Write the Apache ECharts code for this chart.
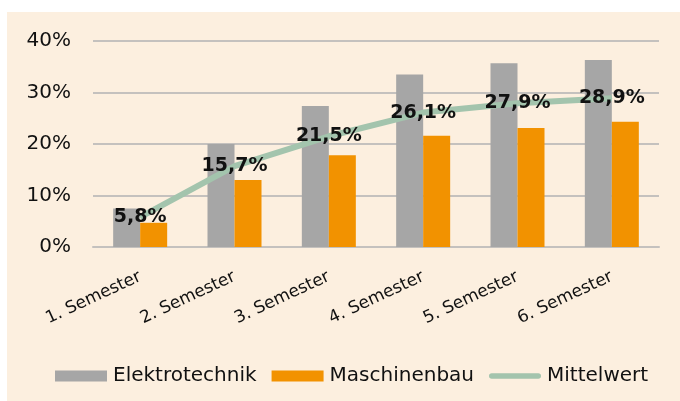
<!DOCTYPE html>
<html>
<head>
<meta charset="utf-8">
<script src="https://cdn.jsdelivr.net/npm/echarts@6/dist/echarts.min.js"></script>
<style>
  html, body { margin: 0; padding: 0; background: #ffffff; }
  #main { position: absolute; left: 7px; top: 12px; width: 673px; height: 389px; }
</style>
</head>
<body>
<div id="main"></div>
<script>
const categories = ['1. Semester', '2. Semester', '3. Semester', '4. Semester', '5. Semester', '6. Semester'];
const elektrotechnik = [7.5, 20.0, 27.4, 33.5, 35.7, 36.3];
const maschinenbau = [4.7, 13.0, 17.8, 21.6, 23.1, 24.3];
const mittelwert = [5.8, 15.7, 21.5, 26.1, 27.9, 28.9];

const myChart = echarts.init(document.getElementById('main'));

const fontFamily = 'DejaVu Sans';

const option = {
  backgroundColor: '#fcefdf',
  animation: false,
  textStyle: { fontFamily: fontFamily },
  grid: {
    left: 86,
    right: 21,
    top: 29,
    bottom: 154,
  },
  legend: {
    left: 43,
    top: 349,
    itemWidth: 52,
    itemHeight: 11,
    itemGap: 15,
    textStyle: { fontSize: 20, color: '#111', fontFamily: fontFamily, padding: [0, 0, 0, 1] },
    data: [
      { name: 'Elektrotechnik', icon: 'rect' },
      { name: 'Maschinenbau', icon: 'rect' },
      // thick rounded line as legend icon
      { name: 'Mittelwert', icon: 'path://M3,0L53,0A3,3,0,0,1,53,6L3,6A3,3,0,0,1,3,0Z' },
    ],
  },
  xAxis: {
    type: 'category',
    data: categories,
    axisTick: { show: false },
    axisLine: { lineStyle: { color: '#c4c1be', width: 2 } },
    axisLabel: {
      rotate: 25,
      margin: 29,
      fontSize: 17,
      color: '#111',
      interval: 0,
    },
  },
  yAxis: {
    type: 'value',
    min: 0,
    max: 40,
    interval: 10,
    axisLabel: {
      formatter: '{value}%',
      fontSize: 20,
      color: '#111',
      margin: 22,
    },
    splitLine: { lineStyle: { color: '#c4c1be', width: 2 } },
  },
  series: [
    {
      name: 'Elektrotechnik',
      type: 'bar',
      data: elektrotechnik,
      barWidth: 27,
      barGap: '0%',
      itemStyle: { color: '#a6a6a6' },
    },
    {
      name: 'Maschinenbau',
      type: 'bar',
      data: maschinenbau,
      barWidth: 27,
      itemStyle: { color: '#f29200' },
    },
    {
      name: 'Mittelwert',
      type: 'line',
      data: mittelwert,
      symbol: 'circle',
      symbolSize: 1,
      color: '#a3c4ad',
      lineStyle: { width: 6, color: '#a3c4ad' },
      label: {
        show: true,
        position: 'inside',
        fontSize: 19,
        fontWeight: 'bold',
        color: '#111',
        formatter: (p) => p.value.toFixed(1).replace('.', ',') + '%',
      },
      z: 5,
    },
  ],
};

myChart.setOption(option);
</script>
</body>
</html>
